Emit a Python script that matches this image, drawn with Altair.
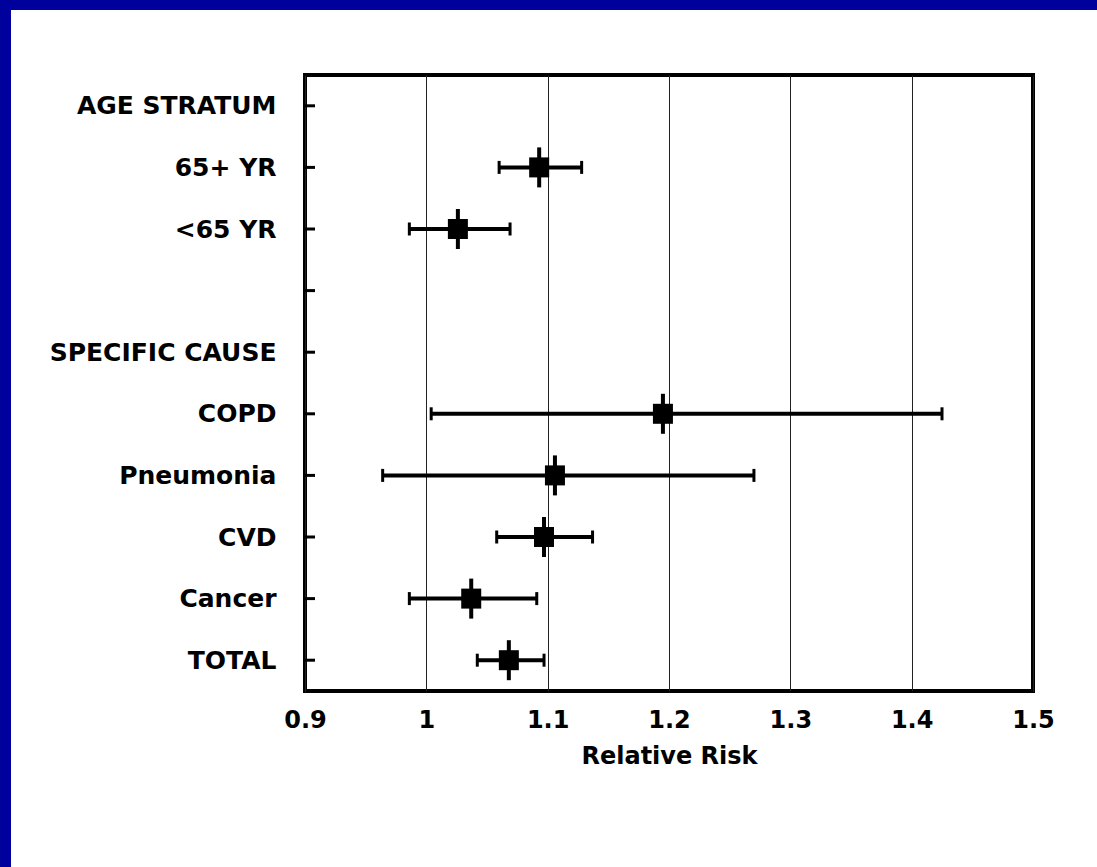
import altair as alt
import pandas as pd

# Row labels (top to bottom), " " is the empty spacer row
categories = ["AGE STRATUM", "65+ YR", "<65 YR", " ", "SPECIFIC CAUSE",
              "COPD", "Pneumonia", "CVD", "Cancer", "TOTAL"]

# Estimates
est_labels = ["65+ YR", "<65 YR", "COPD", "Pneumonia", "CVD", "Cancer", "TOTAL"]
rr = [1.093, 1.026, 1.195, 1.106, 1.097, 1.037, 1.068]
lo = [1.060, 0.986, 1.004, 0.964, 1.058, 0.986, 1.042]
hi = [1.128, 1.069, 1.425, 1.270, 1.137, 1.091, 1.097]

x_ticks = [0.9, 1.0, 1.1, 1.2, 1.3, 1.4, 1.5]
x_domain = [0.9, 1.5]

df = pd.DataFrame({"label": est_labels, "rr": rr, "lo": lo, "hi": hi})
cat_df = pd.DataFrame({"label": categories})
one = pd.DataFrame({"k": [0]})

FONT = "DejaVu Sans"
BLUE = "#00009c"

x_axis = alt.Axis(values=x_ticks, format="~g", grid=True, gridColor="#222222",
                  gridWidth=1, ticks=False, domain=False, labelFontSize=24,
                  labelPadding=17, titleFontSize=24, titlePadding=12,
                  labelFlush=False)
y_axis = alt.Axis(ticks=False, domain=False, labelFontSize=25, labelPadding=29,
                  labelLimit=400)


def X(field):
    return alt.X(f"{field}:Q", scale=alt.Scale(domain=x_domain, nice=False, zero=False),
                 axis=x_axis, title="Relative Risk")


def Y(field="label"):
    return alt.Y(f"{field}:N", sort=categories,
                 scale=alt.Scale(type="point", padding=0.5, domain=categories),
                 axis=y_axis, title=None)


base = alt.Chart(df)

bars = base.mark_rule(color="black", strokeWidth=4).encode(
    x=X("lo"), x2="hi:Q", y=Y())
cap_lo = base.mark_tick(color="black", thickness=3, size=13, opacity=1).encode(
    x=X("lo"), y=Y())
cap_hi = base.mark_tick(color="black", thickness=3, size=13, opacity=1).encode(
    x=X("hi"), y=Y())
vline = base.mark_tick(color="black", thickness=4, size=40, opacity=1).encode(
    x=X("rr"), y=Y())
square = base.mark_square(color="black", size=400, opacity=1, filled=True).encode(
    x=X("rr"), y=Y())

yticks = alt.Chart(cat_df).mark_rule(color="black", strokeWidth=3).encode(
    x=alt.value(0), x2=alt.value(10), y=Y())

top_bar = alt.Chart(one).mark_rect(color=BLUE).encode(
    x=alt.value(-305), x2=alt.value(792), y=alt.value(-75), y2=alt.value(-65))
left_bar = alt.Chart(one).mark_rect(color=BLUE).encode(
    x=alt.value(-305), x2=alt.value(-294), y=alt.value(-75), y2=alt.value(792))

chart = alt.layer(top_bar, left_bar, yticks, bars, cap_lo, cap_hi, vline, square).properties(
    width=728, height=616,
    padding={"left": 305, "top": 75, "right": 64, "bottom": 176},
    autosize=alt.AutoSizeParams(type="none"),
    background="white",
).configure_view(
    stroke="black", strokeWidth=4
).configure_axis(
    labelFont=FONT, titleFont=FONT, labelFontWeight="bold", titleFontWeight="bold",
    labelColor="black", titleColor="black"
)

chart.save("out.html", embed_options={"renderer": "svg", "actions": False})
